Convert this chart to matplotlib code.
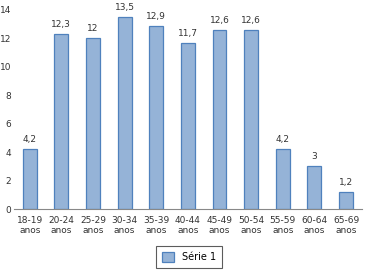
import matplotlib.pyplot as plt

categories = ['18-19\nanos', '20-24\nanos', '25-29\nanos', '30-34\nanos', '35-39\nanos',
              '40-44\nanos', '45-49\nanos', '50-54\nanos', '55-59\nanos', '60-64\nanos',
              '65-69\nanos']
values = [4.2, 12.3, 12, 13.5, 12.9, 11.7, 12.6, 12.6, 4.2, 3, 1.2]
labels = ['4,2', '12,3', '12', '13,5', '12,9', '11,7', '12,6', '12,6', '4,2', '3', '1,2']
yticks = [0, 2, 4, 6, 8, 10, 12, 14]

fig = plt.figure(figsize=(3.67, 2.77), dpi=100)
ax = fig.add_axes([0.038, 0.245, 0.948, 0.719])

x = range(len(categories))
bars = ax.bar(x, values, width=0.44, color='#95B3D7', edgecolor='#4F81BD',
              linewidth=0.9, label='Série 1')
for b, t in zip(bars, labels):
    ax.text(b.get_x() + b.get_width() / 2, b.get_height() + 0.35, t,
            ha='center', va='bottom', fontsize=6.5, color='#333333')

ax.set_ylim(0, 14)
ax.set_xlim(-0.5, len(categories) - 0.5)
ax.set_yticks(yticks)
ax.set_yticklabels([str(v) for v in yticks], fontsize=6.5, color='#333333')
ax.set_xticks(list(x))
ax.set_xticklabels(categories, fontsize=6.5, color='#333333', linespacing=1.15)
ax.tick_params(axis='y', length=0, pad=2)
ax.tick_params(axis='x', length=0, pad=5)
for s in ['top', 'right', 'left']:
    ax.spines[s].set_visible(False)
ax.spines['bottom'].set_color('#888888')
ax.spines['bottom'].set_linewidth(0.8)

leg = fig.legend(loc='center', bbox_to_anchor=(0.515, 0.072), fontsize=7,
                 frameon=True, fancybox=False, edgecolor='#333333',
                 handlelength=1.2, handleheight=1.2, borderpad=0.6)
leg.get_frame().set_linewidth(0.8)

fig.savefig('out.png', dpi=100)
